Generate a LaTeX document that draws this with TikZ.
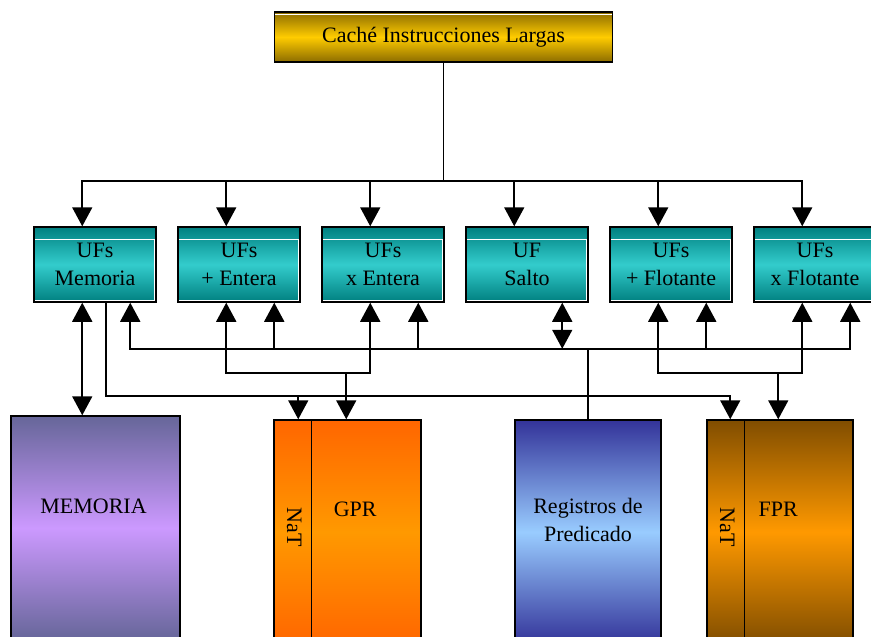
\documentclass[tikz,border=0pt]{standalone}
\usepackage{fontspec}
\setmainfont{Liberation Serif}
\usetikzlibrary{calc}
\usetikzlibrary{arrows.meta}
\definecolor{oroOsc}{RGB}{140,108,0}
\definecolor{oroCla}{RGB}{255,204,0}
\definecolor{tealOsc}{RGB}{0,128,128}
\definecolor{tealCla}{RGB}{51,204,204}
\definecolor{lilaOsc}{RGB}{102,102,153}
\definecolor{lilaCla}{RGB}{204,153,255}
\definecolor{naranjaOsc}{RGB}{255,102,0}
\definecolor{naranjaCla}{RGB}{255,153,0}
\definecolor{azulOsc}{RGB}{51,51,153}
\definecolor{azulCla}{RGB}{153,204,255}
\definecolor{marronOsc}{RGB}{128,77,0}
\tikzset{
	texto/.style={inner sep=0pt,align=center,font=\fontsize{22}{28}\selectfont},
	caja/.style={texto,draw=black,line width=1.5pt},
	uf/.style={caja,minimum width=122pt,minimum height=75pt,top color=tealOsc,bottom color=tealOsc,middle color=tealCla},
	banco/.style={caja,minimum height=224pt},
	flecha/.style={-{Triangle[width=20pt,length=19pt]}},
	flechas/.style={{Triangle[width=20pt,length=19pt]}-{Triangle[width=20pt,length=19pt]}}
}

\begin{document}
\begin{tikzpicture}[x=1pt,y=-1pt,line width=1.8pt]
	\clip (0,0) rectangle (871,637);
	\node[caja,minimum width=338pt,minimum height=50pt,top color=oroOsc,bottom color=oroOsc,middle color=oroCla] (cache) at (443.5,37) {Cach\'e Instrucciones Largas};
	\draw[white,line width=1pt] ($(cache.north west)+(1.5,3)$) -- ($(cache.north east)+(-1.5,3)$);
	
	%UNIDADES FUNCIONALES
	\foreach \n/\t [count=\i from 0] in {mem/UFs\\Memoria,ent/UFs\\+ Entera,mulent/UFs\\x Entera,salto/UF\\Salto,flo/UFs\\+ Flotante,mulflo/UFs\\x Flotante}{
		\node[uf] (\n) at ({95+144*\i},264.5) {\t};
		\draw[white,line width=1pt] ($(\n.north west)+(1.5,13)$) -- ($(\n.north east)+(-1.5,13)$);
		\draw[white,line width=0.8pt] ($(\n.south west)+(1.5,-2.5)$) -- ($(\n.south east)+(-2.5,-2.5)$) -- ($(\n.north east)+(-2.5,13)$);
		\path ($(\n.north west)+(49,0)$) coordinate (\n-a)
			($(\n.south west)+(49,0)$) coordinate (\n-sa)
			($(\n.south west)+(73,0)$) coordinate (\n-sc)
			($(\n.south west)+(97,0)$) coordinate (\n-sb);
	}
	
	%BANCOS DE REGISTROS
	\node[banco,minimum width=169pt,top color=lilaOsc,bottom color=lilaOsc,middle color=lilaCla] (memoria) at (95.5,528) {};
	\node[banco,minimum width=147pt,top color=naranjaOsc,bottom color=naranjaOsc,middle color=naranjaCla] (gpr) at (347.5,532) {};
	\node[banco,minimum width=146pt,top color=azulOsc,bottom color=azulOsc,middle color=azulCla] (pred) at (588,532) {};
	\node[banco,minimum width=146pt,top color=marronOsc,bottom color=marronOsc,middle color=naranjaCla] (fpr) at (780,532) {};
	\draw[line width=1.5pt] ($(gpr.north west)+(38,0)$) -- ($(gpr.south west)+(38,0)$);
	\draw[line width=1.5pt] ($(fpr.north west)+(38,0)$) -- ($(fpr.south west)+(38,0)$);
	
	\node[texto] (memoria-t) at ($(memoria.north)+(-2,91)$) {MEMORIA};
	\node[texto] (gpr-t) at ($(gpr.north west)+(82,90)$) {GPR};
	\node[texto,rotate=-90] (gpr-nat-t) at ($(gpr.north west)+(21,108)$) {NaT};
	\node[texto] (pred-t) at ($(pred.north)+(0,101)$) {Registros de\\Predicado};
	\node[texto] (fpr-t) at ($(fpr.north west)+(72,90)$) {FPR};
	\node[texto,rotate=-90] (fpr-nat-t) at ($(fpr.north west)+(21,108)$) {NaT};
	
	\path ($(gpr.north west)+(73,0)$) coordinate (gpr-in)
		($(gpr.north west)+(25,0)$) coordinate (gpr-nat)
		($(fpr.north west)+(72,0)$) coordinate (fpr-in)
		($(fpr.north west)+(24,0)$) coordinate (fpr-nat);
	
	%REPARTO DE INSTRUCCIONES
	\coordinate (reparto) at ($(cache.south)+(0,118)$);
	\draw (cache.south) -- (reparto);
	\draw[flecha] (reparto) -| (mem-a);
	\draw[flecha] (reparto) -| (mulflo-a);
	\foreach \n in {ent,mulent,salto,flo}
		\draw[flecha] (\n-a |- reparto) -- (\n-a);
	
	%BUS DE PREDICADOS
	\coordinate (predbus) at ($(mem.south)+(0,46)$);
	\draw (pred.north) -- (pred.north |- predbus);
	\draw[flecha] (pred.north |- predbus) -| (mem-sb);
	\draw[flecha] (pred.north |- predbus) -| (mulflo-sb);
	\foreach \n in {ent,mulent,flo}
		\draw[flecha] (\n-sb |- predbus) -- (\n-sb);
	\draw[flechas] (salto-sb |- predbus) -- (salto-sb);
	
	%BUSES GPR Y FPR
	\coordinate (regbus) at ($(mem.south)+(0,70)$);
	\draw[flecha] (gpr-in |- regbus) -| (ent-sa);
	\draw[flecha] (gpr-in |- regbus) -| (mulent-sa);
	\draw[flecha] (gpr-in |- regbus) -- (gpr-in);
	\draw[flecha] (fpr-in |- regbus) -| (flo-sa);
	\draw[flecha] (fpr-in |- regbus) -| (mulflo-sa);
	\draw[flecha] (fpr-in |- regbus) -- (fpr-in);
	
	%MEMORIA Y NaT
	\draw[flechas] (memoria.north -| mem-sa) -- (mem-sa);
	\coordinate (natbus) at ($(mem.south)+(0,93)$);
	\draw[flecha] (mem-sc) |- (fpr-nat |- natbus) -- (fpr-nat);
	\draw[flecha] (gpr-nat |- natbus) -- (gpr-nat);
\end{tikzpicture}
\end{document}
